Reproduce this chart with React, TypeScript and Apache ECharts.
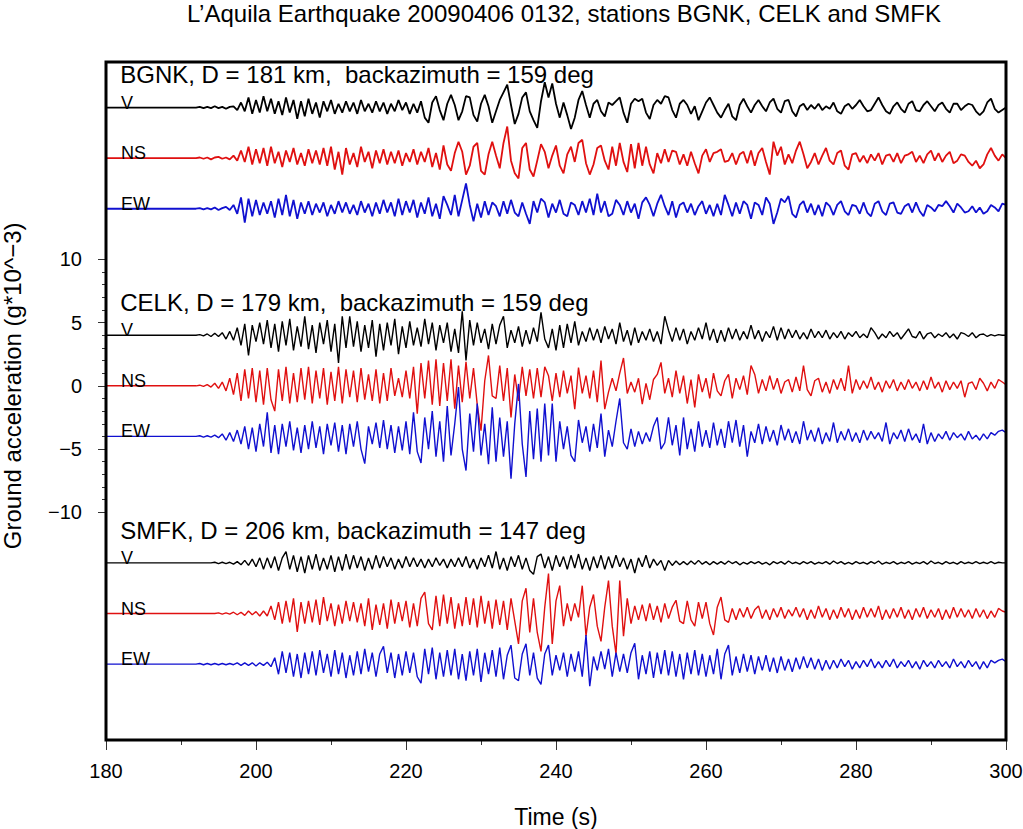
import React, { useEffect, useRef } from "react";
import * as echarts from "echarts";

const TITLE = "L\u2019Aquila Earthquake 20090406 0132, stations BGNK, CELK and SMFK";
const X_NAME = "Time (s)";
const Y_NAME = "Ground acceleration (g*10^\u22123)";
const HEADERS = [
  "BGNK, D = 181 km,  backazimuth = 159 deg",
  "CELK, D = 179 km,  backazimuth = 159 deg",
  "SMFK, D = 206 km, backazimuth = 147 deg",
];
const COMPONENTS = ["V", "NS", "EW"];
const OFFSETS = [22, 18, 14, 4, 0, -4, -14, -18, -22];
const X_TICKS = [180, 200, 220, 240, 260, 280, 300];
const T_START = 180;
const T0 = 192;
const STEP = 0.5;

const BGNK_V = [
  0, .05, -.05, .05, -.05, .1, -.05, .05, -.1, .05,
  .1, -.2, .4, -.3, .8, -.5, .6, -.4, .9, -.3,
  .7, -.5, .5, -.6, .8, -.4, .6, -.9, .5, -.7,
  .7, -.5, .4, -.8, .5, -.3, .6, -.5, .3, -.4,
  .5, -.3, .4, -.5, .6, -.3, .3, -.4, .5, -.3,
  .4, -.5, .3, -.3, .6, -.2, .4, -.5, .3, -.4,
  .5, -.8, -1.2, .4, .9, -.2, -1.0, .3, 1.0, .2,
  -1.0, -.3, .9, .8, -.6, -1.1, .3, 1.0, .1, -1.2,
  -.3, .6, 1.2, 1.8, .2, -1.3, -.5, .8, 1.2, -.3,
  -1.0, -1.6, .5, 2.0, .8, 1.9, .3, -.8, .4, -.6,
  -1.7, -.8, .6, 1.3, .2, -.8, .3, .6, -.3, -.7,
  .4, .2, .5, .8, -.4, -1.2, .3, .7, .5, .7,
  -.4, -.9, .2, .6, .3, .9, .8, -.2, -.8, .3,
  .6, .2, -.5, .1, -1.0, -.3, .4, .8, .2, -.4,
  -.8, -.2, .3, -.7, -1.0, .2, .7, .1, -.4, .2,
  .6, .1, -.3, .4, .7, -.1, -.4, .5, .6, -.3,
  -.7, .1, .3, -.2, .2, -.1, .3, -.2, .1, -.1,
  .4, -.3, -.5, .1, .3, -.1, .2, .6, .1, -.3,
  -.2, .3, .8, .2, -.3, -.5, .1, .4, -.1, -.4,
  .3, .5, -.2, -.3, .2, .5, .1, -.3, .2, .4,
  -.1, -.4, .3, .3, -.2, .1, .3, .2, -.3, -.6,
  -.3, .4, .7, -.1, -.4, -.2, 0,
];
const BGNK_NS = [
  0, .05, -.05, .05, -.1, .05, .1, -.05, .05, -.1,
  .2, -.2, .6, -.3, .9, -.5, .7, -.4, .8, -.6,
  .9, -.4, .5, -.7, .6, -.3, .8, -.5, .4, -.6,
  .7, -.4, .6, -.5, .8, -.6, .9, -.9, .5, -1.3,
  .8, -.5, .4, -.7, .9, -.3, .5, -.8, .6, -.4,
  .7, -.5, .5, -.4, .6, -.6, .4, -.3, .7, -.5,
  .5, -.3, .8, -.7, .4, -.9, 1.0, -.5, -1.0, .4,
  1.3, .5, -1.3, -.6, .9, 1.2, -1.0, -1.3, .3, 1.3,
  .2, -.8, 1.2, 2.5, -.2, -1.2, -1.6, .8, 1.2, -.9,
  -1.45, -.2, 1.1, .5, -.8, .2, 1.0, -.6, -1.2, .3,
  .9, -.3, 1.2, 1.45, -.4, -1.3, -.5, .8, 1.0, -.2,
  -.9, .9, -.6, 1.2, -.3, -1.1, 1.1, -.8, 1.2, -.6,
  .9, -.5, -1.2, .4, -.4, .7, -.3, .6, .5, -.5,
  .3, -.6, .5, -.4, -1.2, .2, .7, -.3, .4, .5,
  .7, -.3, -.2, .4, -.5, .3, .5, -.4, .6, -.6,
  .4, .8, -.3, -1.3, 1.3, .2, .9, -.5, .3, -.4,
  .6, 1.3, .3, -.8, -.3, .4, -.5, .2, .8, -.2,
  -.5, .4, .6, -.6, -.9, .3, .4, -.3, .2, -.4,
  .3, -.2, .4, -.5, .2, .3, -.3, .4, -.4, .2,
  .3, .5, -.3, .2, -.4, .3, .6, -.2, .4, -.3,
  .2, .5, -.4, -.2, .3, .2, -.3, -.6, -.2, -.8,
  -.5, .3, .8, .2, -.2, .3, 0,
];
const BGNK_EW = [
  0, .05, -.05, .05, -.05, .1, -.1, .05, .15, -.1,
  .3, -.4, .9, -1.1, .8, -.6, .7, -.5, .5, -.4,
  .6, -.7, .8, -.5, 1.1, -.6, .7, -.8, .5, -.4,
  .6, -.5, .4, -.3, .5, -.6, .3, -.4, .6, -.3,
  .5, -.4, .3, -.5, .6, -.3, .4, -.6, .5, -.4,
  .7, -.3, .5, -.6, .8, -.5, .6, -.3, .7, -.7,
  .5, -.4, .9, -.6, .4, -.8, 1.0, .3, -.5, 1.1,
  -.6, .7, 2.0, .3, -1.0, .4, -.7, .6, -.5, .5,
  .2, -.6, .6, -.4, .7, -.3, -.6, .5, -.4, -1.2,
  .6, -.3, .8, .5, -.7, .4, -.3, .7, -.4, -.6,
  .5, .3, -.5, .6, -.3, .8, -.5, 1.2, -.3, .6,
  -.6, -.4, .7, .3, -.5, .6, -.3, .4, -.8, .5,
  .9, .3, -.6, .4, 1.1, .2, -.5, .6, -.7, .3,
  .5, -.3, .4, -.5, .2, .6, -.4, .3, -.6, .4,
  -.5, 1.1, .3, -.6, .5, -.4, .6, .3, -.8, .5,
  .3, -.5, .9, .4, -1.2, -.3, .8, .5, 1.0, -.4,
  -.7, .3, .6, -.3, .4, -.5, .3, -.6, .5, .2,
  -.5, .3, .6, -.2, -.5, .3, .2, -.4, .5, -.3,
  -.6, .4, .6, -.2, -.5, .4, .5, -.3, -.4, .2,
  .4, -.3, .5, -.2, -.6, .3, .1, -.2, .3, .2,
  .6, .2, -.3, .4, .1, -.3, -.2, .2, -.3, .1,
  -.4, -.2, .3, .1, -.2, .4, .3,
];
const CELK_V = [
  0, .05, -.05, .1, -.1, .15, -.1, .2, -.3, .3,
  -.4, .6, -.8, .9, -1.6, .8, -.5, 1.0, -.7, 1.2,
  -1.0, .9, -1.3, 1.1, -.8, 1.3, -1.2, .7, -.9, 1.5,
  -1.1, .8, -1.4, 1.0, -.7, 1.2, -1.3, .9, -2.2, 1.5,
  -1.0, 1.5, -.9, 1.1, -1.3, .8, -1.0, 1.2, -1.7, .9,
  -1.2, 1.0, -.8, 1.3, -1.5, .7, -1.0, 1.1, -.8, .6,
  -.9, 1.3, -.7, 1.0, -1.2, .8, -.6, 1.0, -1.3, .5,
  -1.4, 1.9, -2.0, 1.2, -.8, 1.0, -.6, .5, -1.1, .9,
  -.7, .8, 1.5, -1.0, .4, -.6, .7, -.9, .4, -.7,
  .6, -.5, 1.8, -.3, -1.0, .5, -1.2, .8, -1.0, .9,
  -.6, 1.1, -.8, .3, -.5, .6, -.4, .5, -.6, .7,
  -.3, .5, -.7, 1.0, -.5, .4, -.8, .6, -.6, .3,
  -.4, .5, -.5, .3, -.7, 1.5, .4, -.5, .6, -.4,
  .5, -.7, .3, -.4, .6, -.3, 1.0, -.4, .5, -.6,
  .4, -.5, .6, -.3, .5, -.4, .3, -.3, .8, -.3,
  .4, -.5, .3, -.2, .7, -.4, .6, -.3, .5, -.2,
  .4, -.3, .2, -.3, .5, -.2, .3, -.2, .4, -.3,
  .2, -.2, .3, -.3, .2, -.1, .3, -.2, .1, -.2,
  .6, .2, -.3, .1, -.2, .3, -.1, .2, -.3, .1,
  .5, -.1, -.2, .3, -.3, .1, .2, -.2, .1, -.1,
  .2, -.2, .1, -.3, .2, .1, -.1, .2, -.2, .05,
  .1, -.1, .05, -.05, .05, 0, 0,
];
const CELK_NS = [
  0, .05, -.05, .1, -.1, .2, -.2, .3, -.4, .6,
  -.7, 1.0, -1.2, 1.3, -1.0, 1.4, -1.3, 1.2, -1.5, 1.4,
  -1.1, -2.0, 1.3, -1.2, 1.5, -1.4, 1.0, -1.3, 1.4, -1.1,
  1.5, -1.4, 1.2, -1.0, 1.4, -1.5, 1.1, -1.2, 1.5, -1.4,
  1.3, -.9, 1.2, -1.3, 1.4, -1.1, .9, -1.2, 1.3, -1.4,
  1.0, -1.2, 1.4, -.8, .6, -.9, 1.2, -1.0, 1.5, -2.2,
  1.8, -1.0, 2.0, -1.5, 2.1, -1.6, 1.8, -1.2, 2.1, -1.8,
  1.6, -1.3, 1.9, -1.0, 1.4, -1.5, -3.55, .4, 2.4, -.8,
  -1.0, 1.6, -1.2, 1.4, -2.5, .9, -1.2, 1.5, -.8, 1.3,
  -1.0, 1.4, -.9, 1.5, .8, -1.2, 1.0, -.9, 1.2, -.6,
  .8, -1.85, 1.45, -.6, .8, -1.0, 1.2, -1.3, 2.0, -1.85,
  -.5, .6, -.4, 1.0, 2.2, -.6, .3, -.5, .6, -1.45,
  .2, -1.1, .5, .9, 1.85, -.6, .6, -.9, 1.2, -.6,
  .8, -1.4, .5, -1.7, .9, -.5, .6, -1.0, 1.0, -.4,
  -.8, .4, .9, -1.0, .6, -.3, .8, -.7, 1.6, .9,
  -.6, .5, -.4, .8, -.3, .6, -.6, .3, .5, -.5,
  .7, -.4, 1.6, -.3, -.8, .4, .6, -.5, .3, -.6,
  .5, -.3, .6, -.4, 1.6, -.6, .5, -.3, .4, -.2,
  .7, -.3, .3, -.5, .4, -.2, .5, -.4, .3, -.3,
  .5, -.2, .3, -.4, .4, -.3, .7, -.2, .3, -.5,
  .4, -.3, .3, -.2, .4, -.9, .2, .3, -.3, .6,
  .2, -.4, .3, -.2, .5, .3, .1,
];
const CELK_EW = [
  0, .05, -.05, .05, -.05, .1, -.1, .2, -.3, .3,
  -.4, .5, -.6, .8, -1.0, .7, -1.2, 1.0, -.8, 1.9,
  -1.3, .9, -1.4, 1.0, -.8, 1.2, -1.1, .7, -1.3, .9,
  -1.0, 1.2, -.9, .8, -1.4, 1.0, -.7, 1.1, -1.2, .9,
  -1.4, 1.0, -.8, 1.2, -1.0, -2.15, .8, -.6, 1.1, -.9,
  1.3, -1.0, .9, -1.3, .8, -1.1, 1.2, -1.4, 1.9, -1.2,
  -2.1, 1.5, -1.0, 2.0, -1.6, 1.2, -2.0, 2.4, -1.5, 1.0,
  3.9, -1.0, -2.7, 1.8, -1.2, 2.6, -1.5, 1.0, -2.2, 2.3,
  -2.0, 1.5, -1.6, 1.2, -3.35, 1.0, 4.15, -.6, -3.2, 2.0,
  -1.8, 2.2, -2.0, 2.6, -1.5, 2.6, -2.0, 1.2, -1.0, .8,
  -1.5, -2.0, 1.3, -.5, .8, -1.2, 1.0, -.9, 1.8, -1.6,
  .5, -.8, 1.2, 3.0, -.5, -1.0, .6, -.8, .4, -.6,
  .3, -.4, .8, 1.5, -1.0, -.5, 1.5, -.7, .9, -1.5,
  1.5, -1.0, .6, -1.2, 1.2, -.8, .5, -.9, 1.1, -.7,
  .6, -.9, 1.2, -.5, 1.3, -.8, .9, -1.6, .4, -.5,
  1.0, -.6, .8, -.4, .5, -.7, .9, -.3, .6, -.5,
  .4, -.6, 1.2, -.3, .5, -.4, .7, -.6, .3, -.4,
  1.1, -.5, .4, -.3, .6, -.4, .3, -.5, .5, -.3,
  .4, -.2, .3, -.4, 1.1, -.6, .3, -.2, .5, -.4,
  .6, -.3, .2, -.5, 1.0, -.6, .3, -.4, .2, -.2,
  .4, -.3, .3, -.1, .2, -.3, .4, -.2, .1, -.3,
  .2, -.2, .3, .1, .4, .5, .3,
];
const SMFK_V = [
  0, 0, 0, 0, 0, .05, -.05, .05, -.05, .05,
  -.1, .1, -.15, .2, -.2, .3, -.3, .4, -.5, .4,
  -.4, .5, -.6, .4, .9, -.5, .6, -.7, .5, -.8,
  .6, -.5, .7, -.6, .4, -.5, .6, -.7, .5, -.6,
  .7, -.5, .6, -.4, .5, -.6, .4, -.5, .6, -.4,
  .5, -.3, .4, -.5, .3, -.4, .5, -.3, .4, -.3,
  .3, -.4, .3, -.3, .4, -.2, .3, -.4, .3, -.3,
  .4, -.3, .5, -.4, .3, -.5, .4, -.3, .6, -.4,
  .9, -.5, .4, -.6, .5, -.3, .6, -.5, .4, -.6,
  -.9, .5, .7, -.4, .5, -.6, .6, -.3, .5, -.5,
  .6, -.4, .7, -.5, .4, -.6, .5, -.4, .6, -.5,
  .5, -.4, .6, -.3, .4, -.5, .3, -.8, .4, -.3,
  .6, -.4, .3, -.2, .2, -.6, .2, -.2, .15, -.15,
  .1, -.15, .15, -.1, .2, -.1, .1, -.15, .1, -.1,
  .1, -.1, .15, -.05, .1, -.15, .05, -.1, .1, -.05,
  .1, -.1, .05, -.15, .1, -.05, .1, -.1, .15, -.05,
  .05, -.1, .1, -.05, .1, -.1, .05, -.05, .1, -.1,
  .15, -.05, .1, -.1, .05, -.1, .1, -.05, .05, -.1,
  .1, -.05, .15, -.1, .05, -.05, .1, -.1, .05, -.05,
  .1, -.1, .05, -.05, .1, -.1, .15, -.05, .05, -.1,
  .1, -.05, .05, -.1, .1, -.05, .05, -.05, .1, -.05,
  .05, -.05, .1, -.05, .05, 0, 0,
];
const SMFK_NS = [
  0, 0, 0, 0, 0, 0, .05, -.05, .05, -.05,
  .1, -.1, .1, -.15, .2, -.1, .15, -.2, .2, -.2,
  .6, -.5, .9, -.8, 1.0, -.7, 1.2, -1.45, .9, -.8,
  1.0, -.7, 1.1, -.9, 1.3, -.6, .8, -1.0, .7, -.8,
  1.0, -.6, .9, -.7, .8, -1.0, 1.2, -1.3, .7, -.9,
  .8, -1.2, 1.1, -.8, .9, -.6, 1.0, -1.1, .8, -1.0,
  1.2, 1.7, -.8, -1.3, 1.4, -1.0, 1.5, -.8, 1.3, -1.2,
  .8, -1.0, 1.3, -.9, 1.2, -1.1, 1.4, -.8, 1.0, -1.2,
  1.1, -.9, 1.0, -1.3, 1.2, -.6, -2.4, 1.0, 2.0, -1.5,
  1.2, -1.5, -3.0, .5, 3.15, -2.4, 1.0, 2.2, -1.0, .8,
  -.6, .8, -.3, 2.2, -1.8, .5, 1.5, -1.0, -2.2, .5,
  2.6, -1.0, -3.2, 2.6, -1.8, 1.2, -.8, .6, -.5, .7,
  -.6, .8, -.5, .6, -.7, .8, -.4, .5, 1.05, -.6,
  -.8, 1.0, -.5, -1.0, .9, -.4, .9, -.8, -1.7, .5,
  1.3, -.5, -.7, .4, -.5, .4, -.3, .5, -.4, .3,
  .6, -.4, .3, -.5, .4, -.3, .5, -.4, .3, -.2,
  .5, -.3, .4, -.5, .3, -.4, .6, -.3, .4, -.5,
  .3, -.4, .5, -.3, .4, -.5, .3, -.4, .5, -.3,
  .4, -.3, .6, -.5, .3, -.4, .4, -.3, .5, -.4,
  .3, -.5, .4, -.3, .5, -.4, .3, -.3, .4, -.5,
  .3, -.4, .5, -.3, .4, -.3, .3, -.4, .4, -.3,
  .3, -.4, .2, -.3, .4, .2, .1,
];
const SMFK_EW = [
  0, .05, -.05, .05, -.05, .05, -.05, .05, -.05, .05,
  -.05, .1, -.1, .1, -.1, .1, -.15, .1, -.1, .15,
  -.2, .5, -.8, 1.0, -.7, .9, -1.0, .8, -1.1, .9,
  -.8, 1.0, -.9, 1.1, -.7, .8, -1.0, 1.1, -.8, .9,
  -1.1, .7, -.9, 1.0, -.8, 1.2, -.6, .9, -1.0, .8,
  1.4, -.7, .9, -1.1, .8, -.9, 1.0, -.7, .9, -1.0,
  -1.5, 1.2, -.8, 1.3, -1.2, .9, -1.0, 1.1, -.9, 1.2,
  -1.2, .8, -1.3, 1.0, -.9, 1.2, -1.4, .9, -.8, 1.1,
  -1.0, 1.3, -1.2, .7, 1.5, -1.1, -1.3, .8, 1.6, -.9,
  .9, -1.1, -1.6, .8, 1.5, -.9, .7, -.5, .9, -1.0,
  .8, -.6, 1.0, -1.0, 2.3, -1.75, .6, -.5, 1.0, -.4,
  1.2, -1.0, .9, -.6, .8, -.7, .9, 1.65, -1.2, .7,
  -.8, 1.0, -1.1, .9, -.8, 1.1, -.9, 1.0, -1.0, .8,
  -1.2, .9, -.8, 1.1, -.9, .8, -1.0, .7, -.8, 1.2,
  -1.2, .8, 1.5, -.9, .6, -.7, .8, -.6, .7, -.8,
  .6, -.5, .7, -.6, .5, -.7, .6, -.5, .4, -.6,
  .5, -.4, .6, -.3, .5, -.4, .4, -.5, .3, -.4,
  .3, -.3, .4, -.2, .3, -.4, .2, -.3, .3, -.2,
  .4, -.3, .2, -.3, .3, -.2, .4, -.3, .2, -.2,
  .3, -.3, .2, -.4, .3, -.2, .2, -.3, .3, -.2,
  .2, -.3, .4, -.2, .2, -.3, .3, -.2, .2, -.4,
  .2, -.3, .3, .1, .3, .4, .2,
];

const TRACES = [BGNK_V, BGNK_NS, BGNK_EW, CELK_V, CELK_NS, CELK_EW, SMFK_V, SMFK_NS, SMFK_EW];
const COLORS = ["#000000", "#e01010", "#1010d0"];

const FONT = "'Liberation Sans', Arial, Helvetica, sans-serif";
const Y_MIN = -28;
const Y_MAX = 25.6;
const GRID_LEFT = 106;
const GRID_TOP = 62;
const GRID_W = 900;
const GRID_H = 678;
const TICK_COLOR = "#333";

function yPix(v: number) {
  return GRID_TOP + ((Y_MAX - v) / (Y_MAX - Y_MIN)) * GRID_H;
}

function buildOption() {
  const lineSeries = TRACES.map((vals, k) => {
    const off = OFFSETS[k];
    const data: number[][] = [[T_START, off]];
    vals.forEach((v, i) => data.push([T0 + i * STEP, off + v]));
    const station = Math.floor(k / 3);
    return {
      type: "line",
      xAxisIndex: 0,
      yAxisIndex: 0,
      data,
      symbol: "none",
      showSymbol: false,
      clip: true,
      silent: true,
      lineStyle: { color: COLORS[k % 3], width: station === 0 ? 1.8 : 1.4 },
      z: 2,
    };
  });

  const compLabels = OFFSETS.map((off, k) => [182, off, COMPONENTS[k % 3]]);
  const headerLabels = HEADERS.map((h, s) => [181.9, OFFSETS[s * 3] + 2.6, h]);

  const labelStyle = {
    show: true,
    align: "left",
    fontFamily: FONT,
    color: "#000000",
    textBorderWidth: 0,
    textShadowBlur: 0,
    opacity: 1,
    formatter: (p: any) => p.value[2],
  };

  const labelSeries = [
    {
      type: "scatter",
      xAxisIndex: 0,
      yAxisIndex: 0,
      data: compLabels,
      symbolSize: 0,
      silent: true,
      itemStyle: { color: "transparent" },
      label: { ...labelStyle, position: [0, 4], verticalAlign: "bottom", fontSize: 18 },
      z: 5,
    },
    {
      type: "scatter",
      xAxisIndex: 0,
      yAxisIndex: 0,
      data: headerLabels,
      symbolSize: 0,
      silent: true,
      itemStyle: { color: "transparent" },
      label: { ...labelStyle, position: [0, 0], verticalAlign: "middle", fontSize: 24 },
      z: 5,
    },
  ];

  const top2 = yPix(10);
  const h2 = yPix(-10) - yPix(10);

  return {
    animation: false,
    backgroundColor: "#ffffff",
    graphic: [
      {
        type: "text",
        x: 564,
        y: 1,
        style: {
          text: TITLE,
          fill: "#000",
          fontSize: 24,
          fontFamily: FONT,
          textAlign: "center",
          align: "center",
        },
      },
    ],
    grid: [
      {
        left: GRID_LEFT,
        top: GRID_TOP,
        width: GRID_W,
        height: GRID_H,
        containLabel: false,
        outerBoundsMode: "none",
        show: true,
        borderColor: "#000",
        borderWidth: 3,
        backgroundColor: "transparent",
        z: 10,
      },
      {
        left: GRID_LEFT,
        top: top2,
        width: GRID_W,
        height: h2,
        containLabel: false,
        outerBoundsMode: "none",
        show: false,
      },
    ],
    xAxis: [
      {
        type: "value",
        gridIndex: 0,
        position: "bottom",
        min: X_TICKS[0],
        max: X_TICKS[X_TICKS.length - 1],
        interval: X_TICKS[1] - X_TICKS[0],
        name: X_NAME,
        nameLocation: "middle",
        nameGap: 65,
        nameTextStyle: { fontSize: 23, fontFamily: FONT, color: "#000" },
        axisLine: { show: false, onZero: false },
        axisTick: { show: true, length: 10, lineStyle: { color: TICK_COLOR, width: 1 } },
        minorTick: { show: true, splitNumber: 2, length: 5, lineStyle: { color: TICK_COLOR, width: 1 } },
        axisLabel: { fontSize: 20, fontFamily: FONT, color: "#000", margin: 21 },
        splitLine: { show: false },
        minorSplitLine: { show: false },
      },
      {
        type: "value",
        gridIndex: 1,
        min: 0,
        max: 1,
        show: false,
        axisLine: { onZero: false },
      },
    ],
    yAxis: [
      {
        type: "value",
        gridIndex: 0,
        min: Y_MIN,
        max: Y_MAX,
        show: false,
        axisLine: { onZero: false },
      },
      {
        type: "value",
        gridIndex: 1,
        position: "left",
        min: -10,
        max: 10,
        interval: 5,
        name: Y_NAME,
        nameLocation: "middle",
        nameGap: 82,
        nameRotate: 90,
        nameTextStyle: { fontSize: 24, fontFamily: FONT, color: "#000" },
        axisLine: { show: false, onZero: false },
        axisTick: { show: true, length: 8, lineStyle: { color: TICK_COLOR, width: 1 } },
        minorTick: { show: true, splitNumber: 5, length: 4, lineStyle: { color: TICK_COLOR, width: 1 } },
        axisLabel: {
          fontSize: 20,
          fontFamily: FONT,
          color: "#000",
          margin: 24,
          formatter: (v: number) => (v < 0 ? "\u2212" + Math.abs(v) : String(v)),
        },
        splitLine: { show: false },
        minorSplitLine: { show: false },
      },
    ],
    series: [...lineSeries, ...labelSeries],
  };
}

export default function App() {
  const ref = useRef<HTMLDivElement>(null);
  useEffect(() => {
    if (!ref.current) return;
    const chart = echarts.init(ref.current, null, { renderer: "svg" });
    chart.setOption(buildOption() as any);
    return () => chart.dispose();
  }, []);
  return (
    <div
      ref={ref}
      style={{ position: "absolute", left: 0, top: 0, width: 1023, height: 829, background: "#fff" }}
    />
  );
}
